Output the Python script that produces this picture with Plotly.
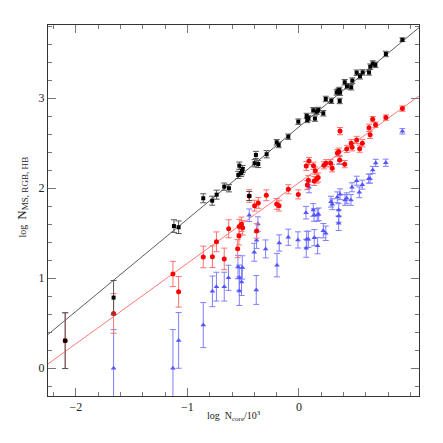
import plotly.graph_objects as go

# ---- data ----
black_x = [-2.096, -1.662, -1.121, -1.079, -0.858, -0.778, -0.738, -0.670, -0.628, -0.544,
           -0.535, -0.520, -0.511, -0.505, -0.446, -0.398, -0.386, -0.365, -0.290, -0.200,
           -0.182, -0.096, -0.006, 0.069, 0.075, 0.085, 0.128, 0.143, 0.159, 0.173,
           0.218, 0.240, 0.290, 0.338, 0.353, 0.362, 0.368, 0.365, 0.410, 0.430,
           0.468, 0.478, 0.517, 0.547, 0.571, 0.628, 0.639, 0.661, 0.685, 0.779, 0.927]
black_y = [0.307, 0.785, 1.580, 1.567, 1.889, 1.862, 1.929, 2.018, 2.000, 2.148,
           2.251, 2.170, 2.190, 2.214, 1.914, 2.278, 2.370, 2.270, 2.378, 2.511,
           2.481, 2.573, 2.740, 2.803, 2.759, 2.780, 2.866, 2.774, 2.851, 2.870,
           2.833, 2.992, 2.972, 3.065, 3.081, 3.092, 3.062, 2.970, 3.178, 3.133,
           3.122, 3.196, 3.284, 3.244, 3.287, 3.287, 3.351, 3.386, 3.371, 3.492, 3.650]
black_err = [0.31, 0.19, 0.07, 0.07, 0.05, 0.05, 0.05, 0.04, 0.04, 0.04,
             0.04, 0.04, 0.04, 0.04, 0.05, 0.04, 0.04, 0.04, 0.04, 0.03,
             0.03, 0.03, 0.03, 0.03, 0.03, 0.03, 0.03, 0.03, 0.03, 0.03,
             0.03, 0.03, 0.03, 0.03, 0.03, 0.03, 0.03, 0.03, 0.03, 0.03,
             0.03, 0.03, 0.03, 0.03, 0.03, 0.03, 0.03, 0.03, 0.03, 0.03, 0.02]

red_x = [-2.096, -1.662, -1.130, -1.079, -0.858, -0.776, -0.740, -0.670, -0.630, -0.550,
         -0.538, -0.535, -0.516, -0.505, -0.446, -0.398, -0.380, -0.365, -0.293, -0.200,
         -0.179, -0.096, -0.006, 0.065, 0.075, 0.084, 0.090, 0.130, 0.137, 0.146,
         0.159, 0.172, 0.224, 0.242, 0.284, 0.298, 0.344, 0.356, 0.368, 0.365,
         0.410, 0.428, 0.468, 0.476, 0.517, 0.544, 0.568, 0.628, 0.638, 0.661,
         0.686, 0.779, 0.927]
red_y = [0.307, 0.610, 1.048, 0.850, 1.237, 1.240, 1.405, 1.215, 1.550, 1.329,
         1.470, 1.575, 1.600, 1.560, 1.914, 1.807, 1.526, 1.837, 1.922, 1.826,
         1.807, 1.989, 1.932, 2.248, 2.037, 2.090, 2.303, 2.250, 2.081, 2.196,
         2.107, 2.120, 2.255, 2.278, 2.278, 2.222, 2.392, 2.407, 2.635, 2.314,
         2.268, 2.437, 2.500, 2.455, 2.537, 2.440, 2.500, 2.672, 2.594, 2.767,
         2.705, 2.785, 2.885]
red_err = [0.31, 0.22, 0.14, 0.17, 0.12, 0.12, 0.11, 0.12, 0.10, 0.10,
           0.10, 0.08, 0.08, 0.08, 0.07, 0.06, 0.08, 0.06, 0.06, 0.06,
           0.06, 0.05, 0.05, 0.05, 0.05, 0.05, 0.04, 0.04, 0.05, 0.04,
           0.05, 0.05, 0.04, 0.04, 0.04, 0.04, 0.04, 0.04, 0.04, 0.04,
           0.04, 0.04, 0.04, 0.04, 0.04, 0.04, 0.04, 0.04, 0.04, 0.03,
           0.03, 0.03, 0.03]

blue_x = [-1.662, -1.130, -1.079, -0.858, -0.776, -0.740, -0.670, -0.632, -0.547, -0.535,
          -0.535, -0.515, -0.508, -0.446, -0.401, -0.383, -0.380, -0.368, -0.299, -0.197,
          -0.177, -0.096, -0.009, 0.063, 0.069, 0.065, 0.084, 0.090, 0.128, 0.135,
          0.137, 0.164, 0.167, 0.176, 0.218, 0.240, 0.287, 0.299, 0.344, 0.356,
          0.356, 0.356, 0.368, 0.362, 0.413, 0.428, 0.466, 0.475, 0.517, 0.541,
          0.568, 0.625, 0.637, 0.661, 0.688, 0.778, 0.927]
blue_y = [0.000, 0.000, 0.310, 0.480, 0.855, 0.907, 0.907, 1.005, 1.125, 1.007,
          0.858, 0.959, 1.120, 1.700, 1.289, 0.870, 1.422, 1.603, 1.326, 1.146,
          1.392, 1.456, 1.426, 1.729, 1.433, 1.333, 1.433, 2.010, 1.759, 1.703,
          1.451, 1.703, 1.362, 1.711, 1.529, 1.500, 1.851, 1.822, 1.900, 1.759,
          1.692, 1.611, 1.933, 2.314, 1.870, 1.889, 1.870, 2.011, 2.084, 1.955,
          2.040, 2.107, 2.107, 2.203, 2.282, 2.284, 2.633]
blue_err = [0.43, 0.43, 0.31, 0.25, 0.17, 0.16, 0.16, 0.14, 0.13, 0.14,
            0.16, 0.15, 0.13, 0.07, 0.10, 0.16, 0.09, 0.08, 0.10, 0.13,
            0.09, 0.09, 0.09, 0.07, 0.09, 0.10, 0.09, 0.06, 0.07, 0.07,
            0.09, 0.07, 0.09, 0.07, 0.08, 0.08, 0.06, 0.06, 0.06, 0.07,
            0.07, 0.08, 0.06, 0.05, 0.06, 0.06, 0.06, 0.05, 0.05, 0.06,
            0.05, 0.05, 0.05, 0.04, 0.04, 0.04, 0.03]

# linear fits: [intercept, slope]
fit_black = [2.682, 1.025]
fit_red = [2.062, 0.895]
fit_x = [-2.4, 1.2]

x_tickvals = [-2, -1, 0]
y_tickvals = [0, 1, 2, 3]

# ---- figure ----
fig = go.Figure()

fig.add_trace(go.Scatter(x=fit_x, y=[fit_black[0] + fit_black[1] * v for v in fit_x],
                         mode="lines", line=dict(color="#333333", width=0.8),
                         showlegend=False, hoverinfo="skip"))
fig.add_trace(go.Scatter(x=fit_x, y=[fit_red[0] + fit_red[1] * v for v in fit_x],
                         mode="lines", line=dict(color="#ff5555", width=0.8),
                         showlegend=False, hoverinfo="skip"))

fig.add_trace(go.Scatter(x=blue_x, y=blue_y, mode="markers",
                         marker=dict(symbol="triangle-up", size=5, color="#5555ff"),
                         error_y=dict(type="data", array=blue_err, color="#7f7fff",
                                      thickness=1, width=3),
                         showlegend=False))
fig.add_trace(go.Scatter(x=red_x, y=red_y, mode="markers",
                         marker=dict(symbol="circle", size=5, color="#ff0000"),
                         error_y=dict(type="data", array=red_err, color="#ff7070",
                                      thickness=1, width=3),
                         showlegend=False))
fig.add_trace(go.Scatter(x=black_x, y=black_y, mode="markers",
                         marker=dict(symbol="square", size=4, color="#000000"),
                         error_y=dict(type="data", array=black_err, color="#555555",
                                      thickness=1, width=3),
                         showlegend=False))

axis_common = dict(showgrid=False, zeroline=False, showline=True, linecolor="#333333",
                   linewidth=1, mirror="ticks", ticks="inside", ticklen=8,
                   tickcolor="#777777", tickwidth=1,
                   tickfont=dict(family="Liberation Serif", size=12, color="#222222"))

fig.update_xaxes(range=[-2.25, 1.076], tickvals=x_tickvals,
                 minor=dict(dtick=0.2, tick0=0, ticks="inside", ticklen=4,
                            tickcolor="#777777", showgrid=False),
                 **axis_common)
fig.update_yaxes(range=[-0.308, 3.814], tickvals=y_tickvals,
                 minor=dict(dtick=0.2, tick0=0, ticks="inside", ticklen=4,
                            tickcolor="#777777", showgrid=False),
                 **axis_common)

fig.add_annotation(text="log  N<sub>core</sub>/10<sup>3</sup>", xref="paper", yref="paper",
                   x=0.5, y=-0.054, xanchor="center", yanchor="middle", showarrow=False,
                   font=dict(family="Liberation Serif", size=10, color="#222222"))
fig.add_annotation(text="log  <span style='font-size:13px'>N<sub>MS, RGB, HB</sub></span>",
                   xref="paper", yref="paper",
                   x=-0.07, y=0.535, xanchor="center", yanchor="middle", textangle=-90,
                   showarrow=False,
                   font=dict(family="Liberation Serif", size=10, color="#222222"))

fig.update_layout(width=443, height=443, margin=dict(l=48, r=24, t=25, b=47),
                  paper_bgcolor="white", plot_bgcolor="white", showlegend=False)

fig.write_html("out.html", config={"displayModeBar": False},
               post_script="document.body.style.margin='0px';document.body.style.overflow='hidden';")
